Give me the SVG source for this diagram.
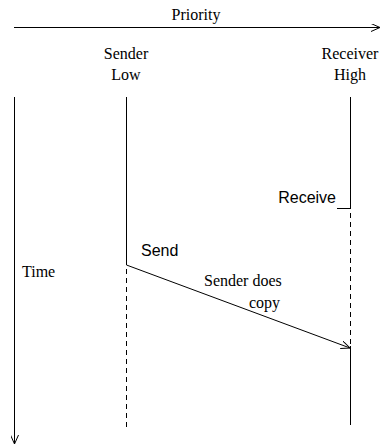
<svg xmlns="http://www.w3.org/2000/svg" width="381" height="447" viewBox="0 0 381 447">
<style>
.ln{stroke:#000;stroke-width:1;fill:none}
.ds{stroke:#000;stroke-width:1;fill:none;stroke-dasharray:5,4}
.sf{font-family:"Liberation Serif",serif;font-size:16px;fill:#000}
.ss{font-family:"Liberation Sans",sans-serif;font-size:16px;fill:#000}
</style>
<defs>
<marker id="ah" markerWidth="10" markerHeight="8" refX="9" refY="4" orient="auto" markerUnits="userSpaceOnUse">
<path d="M0,0 L9,4 L0,8" class="ln"/>
</marker>
</defs>
<g id="priority">
<text class="sf" x="196" y="20" text-anchor="middle">Priority</text>
</g>
<g id="sender">
<text class="sf" x="126" y="59" text-anchor="middle">Sender</text>
<text class="sf" x="126" y="80" text-anchor="middle">Low</text>
<line class="ln" x1="126.5" y1="97" x2="126.5" y2="265"/>
<line class="ds" x1="126.5" y1="269" x2="126.5" y2="427"/>
<text class="ss" x="141" y="256">Send</text>
</g>
<g id="receiver">
<text class="sf" x="350" y="59" text-anchor="middle">Receiver</text>
<text class="sf" x="350" y="80" text-anchor="middle">High</text>
<line class="ln" x1="350.5" y1="97" x2="350.5" y2="209"/>
<line class="ds" x1="350.5" y1="213" x2="350.5" y2="346"/>
<line class="ln" x1="350.5" y1="346" x2="350.5" y2="425"/>
<line class="ln" x1="337" y1="208.5" x2="350.5" y2="208.5"/>
<text class="ss" x="336" y="203" text-anchor="end">Receive</text>
</g>
<g id="time">
<text class="sf" x="22" y="277">Time</text>
</g>
<g id="connectors">
<line class="ln" x1="14" y1="27.5" x2="380" y2="27.5" marker-end="url(#ah)"/>
<line class="ln" x1="14.5" y1="97" x2="14.5" y2="444" marker-end="url(#ah)"/>
<line class="ln" x1="126.5" y1="265" x2="350" y2="348" marker-end="url(#ah)"/>
<text class="sf" x="204" y="286">Sender does</text>
<text class="sf" x="249" y="308">copy</text>
</g>
</svg>
